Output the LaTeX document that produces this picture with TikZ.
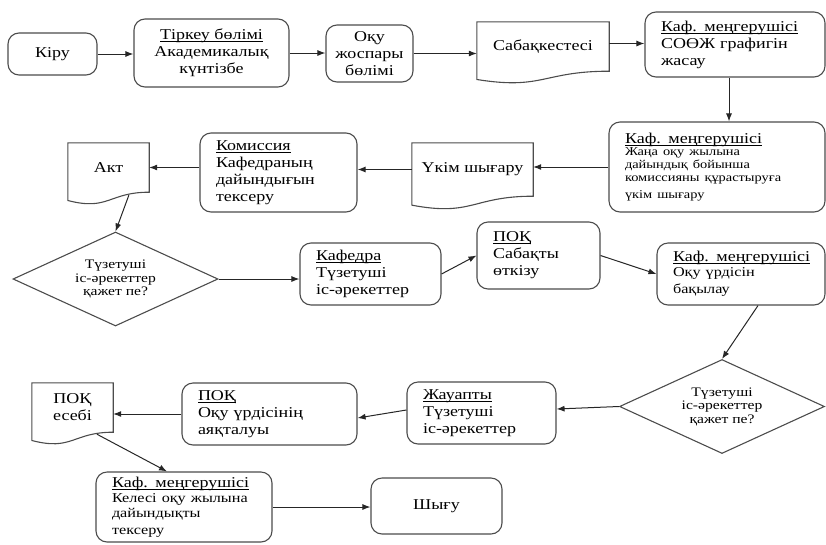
\documentclass[tikz,border=0pt]{standalone}
\usepackage{fontspec}
\setmainfont{Liberation Serif}[FakeStretch=1.2]
\usetikzlibrary{shapes.geometric,arrows.meta,calc}

\tikzset{
  outl/.style={draw=black!70, line width=1.1pt},
  base/.style={font=\fontsize{15}{17}\selectfont, inner sep=0pt},
  % rounded box with text centred
  cbox/.style 2 args={base, outl, rounded corners=11pt, minimum width=#1, minimum height=#2, align=center},
  % rounded box with left-aligned text
  lbox/.style 2 args={base, outl, rounded corners=11pt, minimum width=#1, minimum height=#2,
                      text width={#1-32}, align=left},
  % document symbol: node holds the text, outline drawn by \docline
  docbox/.style 2 args={base, minimum width=#1, minimum height=#2, align=center},
  decide/.style={base, outl, diamond, aspect=2.2, minimum width=205, minimum height=94,
                 align=center, font=\fontsize{13}{13.5}\selectfont},
  flow/.style={draw=black!85, line width=1pt, -{Latex[length=8pt,width=6pt]}}
}
\newcommand\docline[1]{%
  \draw[outl] (#1.north east) -- (#1.south east)
    .. controls (#1.south) and ($(#1.north)!1.384!(#1.south)$)
    .. ($(#1.north west)!1.1675!(#1.south west)$) -- (#1.north west) -- cycle;}
% underline drawn just below the baseline, so it keeps clear of the next line
\newsavebox\ulbox
\newcommand\ul[1]{\leavevmode\sbox\ulbox{#1}\rlap{\rule[-2.2pt]{\wd\ulbox}{0.7pt}}\usebox\ulbox}

\begin{document}
\begin{tikzpicture}[x=1pt,y=-1pt]
\useasboundingbox (0,0) rectangle (826,544);

% first row
\node[cbox={89}{42}] (kiru) at (52.5,54) {\raisebox{3pt}{Кіру}};
\node[cbox={155}{68}] (tirkeu) at (211.5,53) {\ul{Тіркеу бөлімі}\\Академикалық\\күнтізбе};
\node[cbox={87}{57}] (zhospar) at (369.5,53.5) {Оқу\\жоспары\\бөлімі};
\node[docbox={132}{49}] (kestesi) at (543,46.5) {Сабақкестесі};
\node[lbox={180}{65}] (sooj) at (735,44.5) {\ul{Каф. меңгерушісі}\\СОӨЖ графигін\\жасау};

% second row
\node[lbox={216}{90}] (ukimkaf) at (717,167)
  {\ul{Каф. меңгерушісі}\\[-1pt]{\fontsize{12}{13.2}\selectfont Жаңа оқу жылына\\дайындық бойынша\\комиссияны құрастыруға\\үкім шығару}};
\node[docbox={121}{53}] (ukim) at (472.5,169.5) {Үкім шығару};
\node[lbox={157}{79}] (komissiya) at (278.5,172.5) {\ul{Комиссия}\\Кафедраның\\дайындығын\\тексеру};
\node[docbox={81}{49}] (akt) at (108.5,167.5) {Акт};

% third row
\node[decide] (q1) at (115.5,279) {Түзетуші\\іс-әрекеттер\\қажет пе?};
\node[lbox={141}{62}] (kafedra) at (370.5,274) {\ul{Кафедра}\\Түзетуші\\іс-әрекеттер};
\node[lbox={123}{67}] (sabak) at (538.5,255.5) {\ul{ПОҚ}\\Сабақты\\өткізу};
\node[lbox={168}{62}] (bakylau) at (741,274)
  {\ul{Каф. меңгерушісі}\\{\fontsize{13.5}{15}\selectfont Оқу үрдісін\\бақылау}};

% fourth row
\node[decide] (q2) at (722,406.5) {Түзетуші\\іс-әрекеттер\\қажет пе?};
\node[lbox={149}{62}] (zhauapty) at (481.5,413) {\ul{Жауапты}\\Түзетуші\\іс-әрекеттер};
\node[lbox={175}{62}] (ayaktalu) at (269.5,414) {\ul{ПОҚ}\\Оқу үрдісінің\\аяқталуы};
\node[docbox={81}{49}] (esebi) at (72.5,407.5) {ПОҚ\\есебі};

% last row
\node[lbox={176}{70}] (keles) at (184,507)
  {\ul{Каф. меңгерушісі}\\{\fontsize{13.5}{15}\selectfont Келесі оқу жылына\\дайындықты\\тексеру}};
\node[cbox={131}{56}] (shygu) at (436.5,506) {Шығу};

% document outlines
\docline{kestesi}
\docline{ukim}
\docline{akt}
\docline{esebi}

% connectors
\draw[flow] (kiru.east) -- (kiru.east -| tirkeu.west);
\draw[flow] (tirkeu.east) -- (tirkeu.east -| zhospar.west);
\draw[flow] (zhospar.east) -- (zhospar.east -| kestesi.west);
\draw[flow] ([yshift=3pt]kestesi.east) -- ([yshift=3pt]kestesi.east -| sooj.west);
\draw[flow] ([xshift=-6pt]sooj.south) -- ([xshift=-6pt]sooj.south |- ukimkaf.north);
\draw[flow] (ukimkaf.west) -- (ukimkaf.west -| ukim.east);
\draw[flow] (ukim.west) -- (ukim.west -| komissiya.east);
\draw[flow] (komissiya.west |- akt.east) -- (akt.east);
\draw[flow] ($(akt.south)!0.5!(akt.south east)+(0,3)$) -- (q1.north);
\draw[flow] (q1.east) -- (q1.east -| kafedra.west);
\draw[flow] (kafedra.east) -- (sabak.west);
\draw[flow] (sabak.east) -- (bakylau.west);
\draw[flow] ($(bakylau.south)+(17,0)$) -- (q2.north);
\draw[flow] (q2.west) -- ($(zhauapty.east)+(0,-4)$);
\draw[flow] ($(zhauapty.west)+(0,-3)$) -- ($(ayaktalu.east)+(0,4)$);
\draw[flow] (ayaktalu.west) -- (ayaktalu.west -| esebi.east);
\draw[flow] ($(esebi.south)!0.6!(esebi.south east)+(0,2)$) -- ($(keles.north)+(-17,0)$);
\draw[flow] (keles.east) -- (keles.east -| shygu.west);
\end{tikzpicture}
\end{document}
